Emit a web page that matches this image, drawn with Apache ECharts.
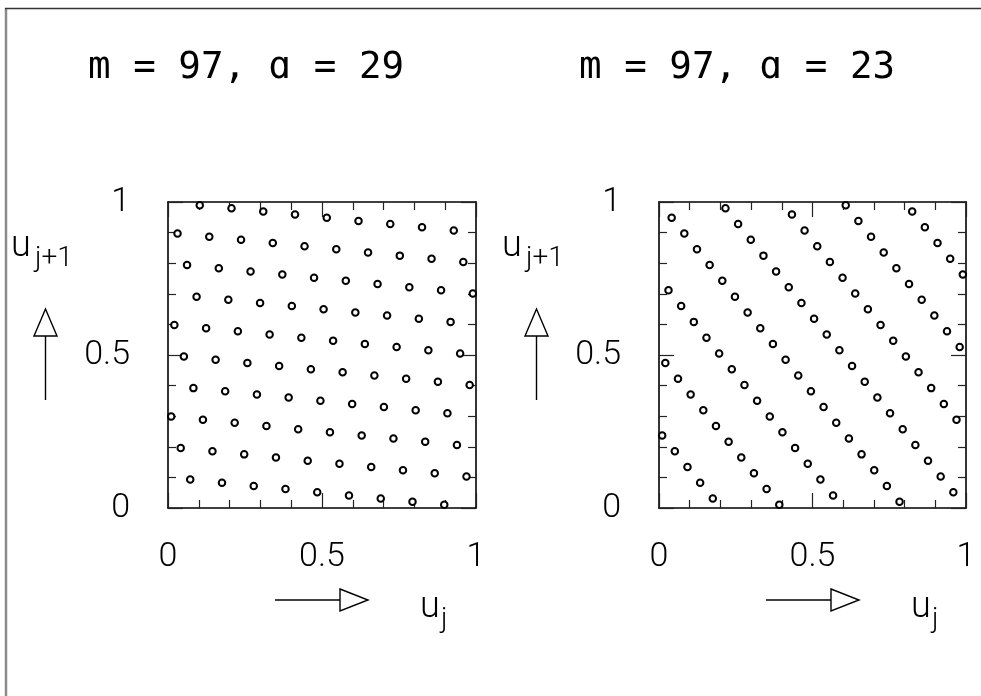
<!DOCTYPE html>
<html>
<head>
<meta charset="utf-8">
<script src="https://cdn.jsdelivr.net/npm/echarts@6/dist/echarts.min.js"></script>
<style>
  html, body { margin: 0; padding: 0; background: #fff; }
  #chart { width: 981px; height: 696px; }
</style>
</head>
<body>
<div id="chart"></div>
<script>
// Lattice structure of a multiplicative congruential generator x' = a*x mod m
const modulus = 97;

// current state x_j, 1 .. 96
const stateJ = [
  1, 2, 3, 4, 5, 6, 7, 8, 9, 10, 11, 12, 13, 14, 15, 16, 17, 18, 19, 20,
  21, 22, 23, 24, 25, 26, 27, 28, 29, 30, 31, 32, 33, 34, 35, 36, 37, 38, 39, 40,
  41, 42, 43, 44, 45, 46, 47, 48, 49, 50, 51, 52, 53, 54, 55, 56, 57, 58, 59, 60,
  61, 62, 63, 64, 65, 66, 67, 68, 69, 70, 71, 72, 73, 74, 75, 76, 77, 78, 79, 80,
  81, 82, 83, 84, 85, 86, 87, 88, 89, 90, 91, 92, 93, 94, 95, 96
];

// successor x_{j+1} for multiplier a = 29
const nextA29 = [
  29, 58, 87, 19, 48, 77, 9, 38, 67, 96, 28, 57, 86, 18, 47, 76, 8, 37, 66, 95,
  27, 56, 85, 17, 46, 75, 7, 36, 65, 94, 26, 55, 84, 16, 45, 74, 6, 35, 64, 93,
  25, 54, 83, 15, 44, 73, 5, 34, 63, 92, 24, 53, 82, 14, 43, 72, 4, 33, 62, 91,
  23, 52, 81, 13, 42, 71, 3, 32, 61, 90, 22, 51, 80, 12, 41, 70, 2, 31, 60, 89,
  21, 50, 79, 11, 40, 69, 1, 30, 59, 88, 20, 49, 78, 10, 39, 68
];

// successor x_{j+1} for multiplier a = 23
const nextA23 = [
  23, 46, 69, 92, 18, 41, 64, 87, 13, 36, 59, 82, 8, 31, 54, 77, 3, 26, 49, 72,
  95, 21, 44, 67, 90, 16, 39, 62, 85, 11, 34, 57, 80, 6, 29, 52, 75, 1, 24, 47,
  70, 93, 19, 42, 65, 88, 14, 37, 60, 83, 9, 32, 55, 78, 4, 27, 50, 73, 96, 22,
  45, 68, 91, 17, 40, 63, 86, 12, 35, 58, 81, 7, 30, 53, 76, 2, 25, 48, 71, 94,
  20, 43, 66, 89, 15, 38, 61, 84, 10, 33, 56, 79, 5, 28, 51, 74
];

const panelTitles = ['m = 97, \u0251 = 29', 'm = 97, \u0251 = 23'];
const tickLabels = { 0: '0', 0.5: '0.5', 1: '1' };

function toPairs(xs, ys) {
  return xs.map((x, i) => [x / modulus, ys[i] / modulus]);
}

const panels = [
  { left: 168, top: 202, width: 308, height: 306, data: toPairs(stateJ, nextA29) },
  { left: 659, top: 202, width: 307, height: 306, data: toPairs(stateJ, nextA23) }
];

const labelFont = { fontFamily: 'Roboto', fontWeight: 300, fontSize: 34, color: '#000' };

function axisBase(showLabel, margin) {
  return {
    min: 0, max: 1, interval: 0.5,
    axisLine: { show: true, onZero: false, lineStyle: { color: '#000', width: 1.6 } },
    axisTick: { show: true, inside: true, length: 15, lineStyle: { color: '#222', width: 1.2 } },
    minorTick: { show: true, splitNumber: 5, length: 8, lineStyle: { color: '#222', width: 1.2 } },
    splitLine: { show: false },
    axisLabel: Object.assign({
      show: showLabel, margin: margin,
      formatter: v => tickLabels[v] !== undefined ? tickLabels[v] : ''
    }, labelFont)
  };
}

const grids = [], xAxes = [], yAxes = [], series = [];
panels.forEach((p, i) => {
  grids.push({ left: p.left, top: p.top, width: p.width, height: p.height, containLabel: false });
  xAxes.push(Object.assign(axisBase(true, 32), { gridIndex: i, type: 'value', position: 'bottom' }));
  xAxes.push(Object.assign(axisBase(false, 8), { gridIndex: i, type: 'value', position: 'top' }));
  yAxes.push(Object.assign(axisBase(true, 38), { gridIndex: i, type: 'value', position: 'left' }));
  yAxes.push(Object.assign(axisBase(false, 8), { gridIndex: i, type: 'value', position: 'right' }));
  series.push({
    type: 'scatter',
    xAxisIndex: 2 * i, yAxisIndex: 2 * i,
    data: p.data,
    symbol: 'circle',
    symbolSize: 6.5,
    itemStyle: { color: '#fff', borderColor: '#000', borderWidth: 2, opacity: 1 },
    emphasis: { disabled: true },
    z: 3
  });
});

// titles, axis names and direction arrows for both panels
const graphics = [
  { type: 'line', shape: { x1: 6, y1: 8, x2: 6, y2: 696 }, style: { stroke: '#8a8a8a', lineWidth: 2.5 } },
  { type: 'line', shape: { x1: 5, y1: 8.5, x2: 981, y2: 8.5 }, style: { stroke: '#333', lineWidth: 1.5 } }
];
const textColor = '#000';
panels.forEach((p, i) => {
  const dx = i * 491;
  graphics.push({
    type: 'text', x: 88 + dx, y: 68,
    style: { text: panelTitles[i], fontFamily: 'DejaVu Sans Mono', fontSize: 37.5,
             fill: textColor, verticalAlign: 'middle', align: 'left' }
  });
  // vertical axis name u_{j+1}
  graphics.push({
    type: 'text', x: 11 + dx, y: 247,
    style: { text: 'u', fontFamily: 'Roboto', fontWeight: 300, fontSize: 36, fill: textColor, verticalAlign: 'middle' }
  });
  graphics.push({
    type: 'text', x: 35 + dx, y: 259,
    style: { text: 'j+1', fontFamily: 'Roboto', fontWeight: 300, fontSize: 28, fill: textColor, verticalAlign: 'middle' }
  });
  // upward arrow
  graphics.push({ type: 'line', shape: { x1: 45.5 + dx, y1: 336, x2: 45.5 + dx, y2: 400 }, style: { stroke: '#000', lineWidth: 1.4 } });
  graphics.push({ type: 'polygon', shape: { points: [[45.5 + dx, 309], [34 + dx, 336], [57 + dx, 336]] },
                  style: { fill: '#fff', stroke: '#000', lineWidth: 1.4 } });
  // horizontal axis name u_j
  graphics.push({
    type: 'text', x: 420 + dx, y: 608,
    style: { text: 'u', fontFamily: 'Roboto', fontWeight: 300, fontSize: 36, fill: textColor, verticalAlign: 'middle' }
  });
  graphics.push({
    type: 'text', x: 441 + dx, y: 620,
    style: { text: 'j', fontFamily: 'Roboto', fontWeight: 300, fontSize: 28, fill: textColor, verticalAlign: 'middle' }
  });
  // rightward arrow
  graphics.push({ type: 'line', shape: { x1: 275 + dx, y1: 600, x2: 340 + dx, y2: 600 }, style: { stroke: '#000', lineWidth: 1.4 } });
  graphics.push({ type: 'polygon', shape: { points: [[340 + dx, 589], [368 + dx, 600], [340 + dx, 611]] },
                  style: { fill: '#fff', stroke: '#000', lineWidth: 1.4 } });
});

const chart = echarts.init(document.getElementById('chart'), null, { renderer: 'canvas' });
chart.setOption({
  animation: false,
  backgroundColor: '#fff',
  grid: grids,
  xAxis: xAxes,
  yAxis: yAxes,
  series: series,
  graphic: graphics
});
</script>
</body>
</html>
